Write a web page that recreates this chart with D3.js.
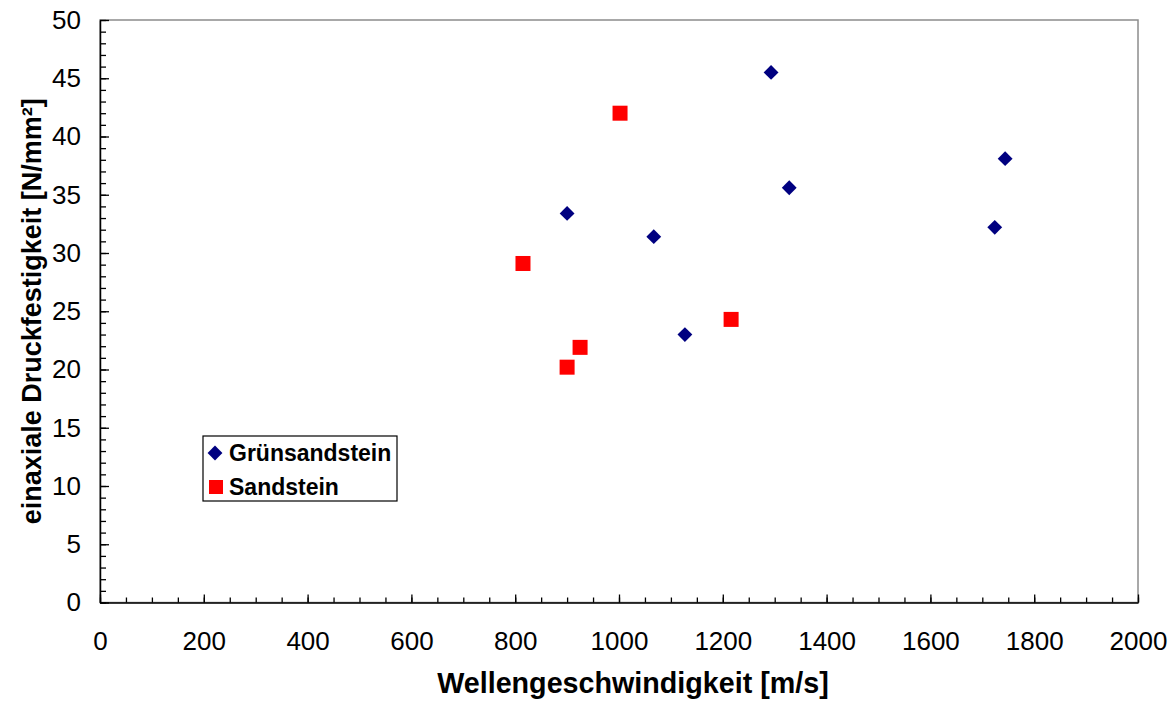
<!DOCTYPE html>
<html>
<head>
<meta charset="utf-8">
<script src="https://cdn.jsdelivr.net/npm/d3@7"></script>
<style>
  body { margin: 0; background: #fff; }
  svg text { font-family: "Liberation Sans", Arial, sans-serif; fill: #000; }
</style>
</head>
<body>
<div id="chart"></div>
<script>
// Data
var gruenX = [900, 1067, 1127, 1293, 1328, 1724, 1744];
var gruenY = [33.4, 31.4, 23.0, 45.5, 35.6, 32.2, 38.1];
var sandX = [815, 925, 900, 1002, 1216];
var sandY = [29.1, 21.9, 20.2, 42.0, 24.3];

var xTicks = [0, 200, 400, 600, 800, 1000, 1200, 1400, 1600, 1800, 2000];
var yTicks = [0, 5, 10, 15, 20, 25, 30, 35, 40, 45, 50];
var seriesNames = ["Grünsandstein", "Sandstein"];
var xTitle = "Wellengeschwindigkeit [m/s]";
var yTitle = "einaxiale Druckfestigkeit [N/mm²]";

var W = 1173, H = 702;
var plot = { left: 100, right: 1138, top: 20, bottom: 602.5 };

var svg = d3.select("#chart").append("svg")
    .attr("width", W)
    .attr("height", H);

var x = d3.scaleLinear().domain([0, 2000]).range([plot.left, plot.right]);
var y = d3.scaleLinear().domain([0, 50]).range([plot.bottom, plot.top]);

// grey frame (top / right)
svg.append("rect")
    .attr("x", plot.left)
    .attr("y", plot.top)
    .attr("width", plot.right - plot.left)
    .attr("height", plot.bottom - plot.top)
    .attr("fill", "none")
    .attr("stroke", "#8c8c8c")
    .attr("stroke-width", 1.5);

// minor ticks
var xMinor = svg.append("g")
    .attr("transform", "translate(0," + plot.bottom + ")")
    .call(d3.axisBottom(x).tickValues(x.ticks(50)).tickSize(-5).tickFormat(""));
xMinor.select(".domain").remove();

var yMinor = svg.append("g")
    .attr("transform", "translate(" + plot.left + ",0)")
    .call(d3.axisLeft(y).tickValues(y.ticks(50)).tickSize(-6).tickFormat(""));
yMinor.select(".domain").remove();

// main axes
var xAxis = svg.append("g")
    .attr("transform", "translate(0," + plot.bottom + ")")
    .call(d3.axisBottom(x).tickValues(xTicks).tickFormat(d3.format("d"))
        .tickSizeInner(-8).tickSizeOuter(0).tickPadding(29));

var yAxis = svg.append("g")
    .attr("transform", "translate(" + plot.left + ",0)")
    .call(d3.axisLeft(y).tickValues(yTicks).tickFormat(d3.format("d"))
        .tickSizeInner(-9).tickSizeOuter(0).tickPadding(19));

svg.selectAll(".tick line").attr("stroke", "#000").attr("stroke-width", 1.3);
svg.selectAll(".domain").attr("stroke", "#000").attr("stroke-width", 1.5);
svg.selectAll(".tick text")
    .attr("font-size", "26px")
    .attr("font-family", "'Liberation Sans', Arial, sans-serif");

// axis titles
svg.append("text")
    .attr("x", 633)
    .attr("y", 693)
    .attr("text-anchor", "middle")
    .attr("font-size", "28.7px")
    .attr("font-weight", "bold")
    .text(xTitle);

svg.append("text")
    .attr("transform", "rotate(-90)")
    .attr("x", -(plot.top + plot.bottom) / 2)
    .attr("y", 41)
    .attr("text-anchor", "middle")
    .attr("font-size", "27px")
    .attr("font-weight", "bold")
    .text(yTitle);

// points
var gruen = gruenX.map(function(v, i){ return { x: v, y: gruenY[i] }; });
var sand = sandX.map(function(v, i){ return { x: v, y: sandY[i] }; });

var diamond = d3.symbol().type(d3.symbolSquare).size(110);

svg.selectAll(".gruen")
    .data(gruen)
    .enter().append("path")
    .attr("class", "gruen")
    .attr("d", diamond)
    .attr("transform", function(d){ return "translate(" + x(d.x) + "," + y(d.y) + ") rotate(45)"; })
    .attr("fill", "#000080");

svg.selectAll(".sand")
    .data(sand)
    .enter().append("rect")
    .attr("class", "sand")
    .attr("x", function(d){ return x(d.x) - 7.5; })
    .attr("y", function(d){ return y(d.y) - 7.5; })
    .attr("width", 15)
    .attr("height", 15)
    .attr("fill", "#ff0000");

// legend
var legend = svg.append("g").attr("transform", "translate(203,436)");
legend.append("rect")
    .attr("width", 194)
    .attr("height", 65)
    .attr("fill", "#fff")
    .attr("stroke", "#000")
    .attr("stroke-width", 1.2);

var rows = legend.selectAll(".row")
    .data(seriesNames)
    .enter().append("g")
    .attr("transform", function(d, i){ return "translate(0," + (17 + i * 34) + ")"; });

rows.each(function(d, i){
    var g = d3.select(this);
    if (i === 0) {
        g.append("path")
            .attr("d", diamond)
            .attr("transform", "translate(12,0) rotate(45)")
            .attr("fill", "#000080");
    } else {
        g.append("rect")
            .attr("x", 6).attr("y", -7)
            .attr("width", 14).attr("height", 14)
            .attr("fill", "#ff0000");
    }
    g.append("text")
        .attr("x", 26)
        .attr("y", 8)
        .attr("font-size", "23px")
        .attr("font-weight", "bold")
        .text(d);
});
</script>
</body>
</html>
